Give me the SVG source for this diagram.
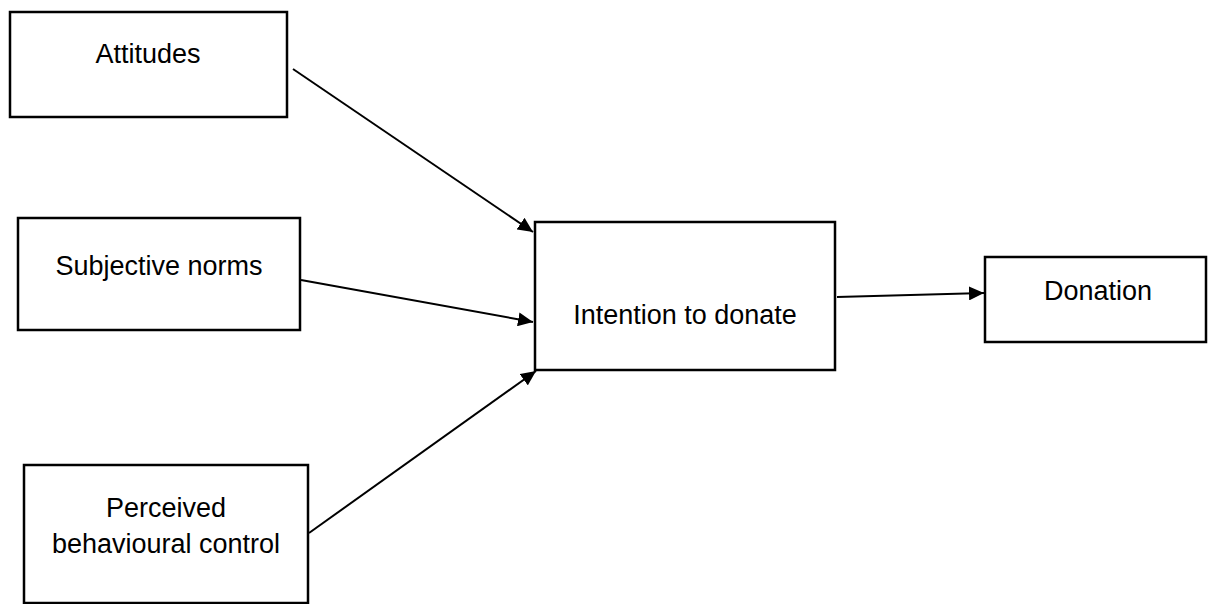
<svg xmlns="http://www.w3.org/2000/svg" width="1208" height="604" viewBox="0 0 1208 604">
<style>
.box{fill:#fff;stroke:#000;stroke-width:2.5}
.lbl{font-family:"Liberation Sans",Arial,sans-serif;font-size:27px;fill:#000;text-anchor:middle}
.edge{stroke:#000;stroke-width:2;fill:none;marker-end:url(#ah)}
</style>
<defs>
<marker id="ah" markerUnits="userSpaceOnUse" markerWidth="16" markerHeight="14" refX="15" refY="7" orient="auto">
<path d="M0,0 L15,7 L0,14 z" fill="#000"/>
</marker>
</defs>
<rect width="1208" height="604" fill="#fff"/>
<g id="attitudes">
<rect class="box" x="10" y="12" width="277" height="105"/>
<text class="lbl" x="148" y="63">Attitudes</text>
</g>
<g id="subjective-norms">
<rect class="box" x="18" y="218" width="282" height="112"/>
<text class="lbl" x="159" y="275">Subjective norms</text>
</g>
<g id="perceived-control">
<rect class="box" x="24" y="465" width="284" height="138"/>
<text class="lbl" x="166" y="517">Perceived</text>
<text class="lbl" x="166" y="553">behavioural control</text>
</g>
<g id="intention">
<rect class="box" x="535" y="222" width="300" height="148"/>
<text class="lbl" x="685" y="324">Intention to donate</text>
</g>
<g id="donation">
<rect class="box" x="985" y="257" width="221" height="85"/>
<text class="lbl" x="1098" y="300">Donation</text>
</g>
<g id="connectors">
<line class="edge" x1="293" y1="69" x2="533" y2="232"/>
<line class="edge" x1="301" y1="280" x2="533" y2="322"/>
<line class="edge" x1="309" y1="533" x2="536" y2="371"/>
<line class="edge" x1="837" y1="297" x2="984" y2="293"/>
</g>
</svg>
